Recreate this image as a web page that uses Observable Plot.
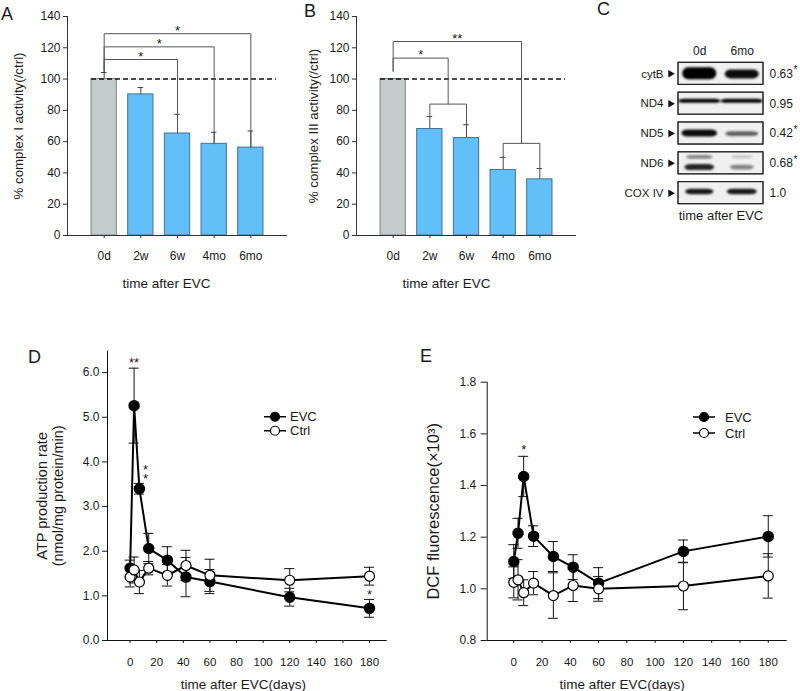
<!DOCTYPE html>
<html><head><meta charset="utf-8">
<script src="https://cdn.jsdelivr.net/npm/d3@7"></script>
<script src="https://cdn.jsdelivr.net/npm/@observablehq/plot@0.6"></script>
<style>
body{margin:0;background:#fff;font-family:"Liberation Sans",Arial,Helvetica,sans-serif;color:#1a1a1a;}
#fig{position:relative;width:800px;height:691px;overflow:hidden;}
.panel{position:absolute;}
.letter{position:absolute;font-size:18px;line-height:18px;}
.legend{position:absolute;font-size:13px;line-height:13px;}
.legend .row{display:flex;align-items:center;}
.legend svg{display:block;}
</style></head>
<body><div id="fig"></div>
<script>
// ---------- data ----------
const catsAB = ["0d", "2w", "6w", "4mo", "6mo"];
const complexI = [100, 90.2, 65.2, 58.6, 56.2];
const complexIErr = [4.2, 4.4, 12.3, 7.4, 10.6];
const complexIII = [100, 68.1, 62.3, 41.9, 35.9];
const complexIIIErr = [0, 8.0, 8.5, 8.1, 6.9];
const sigA = [
  {from: "0d", to: ["6w"], level: 112.5, label: "*"},
  {from: "0d", to: ["4mo"], level: 120.6, label: "*"},
  {from: "0d", to: ["6mo"], level: 129, label: "*"}
];
const sigB = [
  {from: "0d", to: ["2w", "6w"], level: 113.4, join: 84, label: "*"},
  {from: "0d", to: ["4mo", "6mo"], level: 124, join: 58.9, label: "**"}
];

const blotProteins = ["cytB", "ND4", "ND5", "ND6", "COX IV"];
const blotLanes = ["0d", "6mo"];
const blotRatio = ["0.63", "0.95", "0.42", "0.68", "1.0"];
const blotSig = [true, false, true, true, false];
// band density, thickness (share of row), length (share of lane), shift (share of row)
const blotBands = [
  {protein: "cytB", lane: "0d", density: 1.0, thick: 0.40, len: 0.80, shift: 0},
  {protein: "cytB", lane: "6mo", density: 0.95, thick: 0.30, len: 0.80, shift: 0.02},
  {protein: "ND4", lane: "0d", density: 1.0, thick: 0.13, len: 1.0, shift: -0.08},
  {protein: "ND4", lane: "6mo", density: 1.0, thick: 0.13, len: 1.0, shift: -0.08},
  {protein: "ND5", lane: "0d", density: 0.95, thick: 0.24, len: 0.84, shift: 0},
  {protein: "ND5", lane: "6mo", density: 0.6, thick: 0.16, len: 0.78, shift: 0.02},
  {protein: "ND6", lane: "0d", density: 0.45, thick: 0.12, len: 0.62, shift: -0.2},
  {protein: "ND6", lane: "0d", density: 0.85, thick: 0.20, len: 0.70, shift: 0.14},
  {protein: "ND6", lane: "6mo", density: 0.2, thick: 0.10, len: 0.50, shift: -0.2},
  {protein: "ND6", lane: "6mo", density: 0.45, thick: 0.16, len: 0.56, shift: 0.14},
  {protein: "COX IV", lane: "0d", density: 0.9, thick: 0.18, len: 0.66, shift: -0.04},
  {protein: "COX IV", lane: "6mo", density: 0.9, thick: 0.18, len: 0.70, shift: -0.04}
];

const days = [0, 3, 7, 14, 28, 42, 60, 120, 180];
const atpEVC = [1.62, 5.26, 3.40, 2.06, 1.80, 1.42, 1.32, 0.97, 0.72];
const atpEVCErr = [0.18, 0.84, 0.12, 0.34, 0.30, 0.44, 0.27, 0.20, 0.20];
const atpCtrl = [1.42, 1.58, 1.31, 1.62, 1.46, 1.68, 1.46, 1.35, 1.44];
const atpCtrlErr = [0.22, 0.29, 0.26, 0.15, 0.24, 0.34, 0.36, 0.26, 0.20];
const sigD = [
  {day: 3, label: "**"},
  {day: 7, label: "*\n*"},
  {day: 180, label: "*"}
];
const dcfEVC = [1.106, 1.215, 1.435, 1.204, 1.125, 1.084, 1.022, 1.145, 1.203];
const dcfEVCErr = [0.065, 0.058, 0.078, 0.040, 0.058, 0.048, 0.060, 0.044, 0.080];
const dcfCtrl = [1.025, 1.035, 0.985, 1.022, 0.974, 1.013, 1.000, 1.011, 1.050];
const dcfCtrlErr = [0.060, 0.078, 0.050, 0.045, 0.088, 0.062, 0.048, 0.092, 0.086];
const sigE = [{day: 7, label: "*"}];

// ---------- helpers ----------
const FONT = '"Liberation Sans", Arial, Helvetica, sans-serif';
const TXT = "#1a1a1a";
const style = {fontFamily: FONT, fontSize: "12px", color: TXT, background: "transparent", overflow: "visible"};
const fig = document.getElementById("fig");
function place(node, left, top) {
  const d = document.createElement("div");
  d.className = "panel"; d.style.left = left + "px"; d.style.top = top + "px";
  d.appendChild(node); fig.appendChild(d);
}
function letter(t, left, top) {
  const d = document.createElement("div");
  d.className = "letter"; d.textContent = t;
  d.style.left = left + "px"; d.style.top = top + "px";
  fig.appendChild(d);
}

function bracketGeom(sig, vals, errs) {
  const paths = [], stars = [];
  sig.forEach((s, k) => {
    const a = catsAB.indexOf(s.from);
    const footA = vals[a] + Math.max(errs[a], 5);
    const tos = s.to.map(t => catsAB.indexOf(t));
    if (tos.length === 1) {
      const b = tos[0];
      [[a, footA], [a, s.level], [b, s.level], [b, vals[b]]].forEach(([x, y]) => paths.push({x, y, z: "m" + k}));
      stars.push({x: (a + b) / 2, y: s.level, label: s.label});
    } else {
      const mid = (tos[0] + tos[1]) / 2;
      [[a, footA], [a, s.level], [mid, s.level], [mid, s.join]].forEach(([x, y]) => paths.push({x, y, z: "m" + k}));
      [[tos[0], vals[tos[0]] + errs[tos[0]]], [tos[0], s.join], [tos[1], s.join], [tos[1], vals[tos[1]] + errs[tos[1]]]]
        .forEach(([x, y]) => paths.push({x, y, z: "s" + k}));
      stars.push({x: (a + mid) / 2, y: s.level, label: s.label});
    }
  });
  return {paths, stars};
}

function barPanel(vals, errs, sig, ylab, ylabDx, titleDx) {
  const rows = catsAB.map((c, i) => ({c, i, v: vals[i], e: errs[i], top: vals[i] + errs[i]}));
  const {paths, stars} = bracketGeom(sig, vals, errs);
  const withErr = rows.filter(d => d.e > 0);
  const hw = 0.345;
  return Plot.plot({
    width: 292, height: 300, marginLeft: 67, marginRight: 5, marginTop: 16, marginBottom: 65,
    style,
    x: {domain: [-1, 5]},
    y: {domain: [0, 140]},
    marks: [
      Plot.ruleX(withErr, {x: "i", y1: "v", y2: "top", stroke: "#444", strokeWidth: 1}),
      Plot.ruleY(withErr, {x1: "i", x2: "i", y: "top", insetLeft: -2.8, insetRight: -2.8, stroke: "#444", strokeWidth: 1}),
      Plot.rect(rows.filter(d => d.i === 0), {x1: d => d.i - hw, x2: d => d.i + hw, y1: () => 0, y2: "v", fill: "#c3cbcb", stroke: "#7c8585", strokeWidth: 1}),
      Plot.rect(rows.filter(d => d.i > 0), {x1: d => d.i - hw, x2: d => d.i + hw, y1: () => 0, y2: "v", fill: "#63bff8", stroke: "#3e7496", strokeWidth: 1}),
      Plot.ruleY([100], {stroke: "#111", strokeWidth: 1.4, strokeDasharray: "5,3", insetLeft: 24, insetRight: 11}),
      Plot.line(paths, {x: "x", y: "y", z: "z", stroke: "#555", strokeWidth: 1}),
      Plot.text(stars, {x: "x", y: "y", text: "label", dy: -3, fontSize: 13, fill: TXT}),
      Plot.ruleX([-1], {stroke: "#333"}),
      Plot.ruleY([0], {stroke: "#333"}),
      Plot.axisY({ticks: d3.range(0, 141, 20), tickSize: 4, tickPadding: 3, fontSize: 12, label: null, stroke: "#333"}),
      Plot.axisX({ticks: [0, 1, 2, 3, 4], tickFormat: i => catsAB[i], tickSize: 3, tickPadding: 12.5, fontSize: 12, label: null, stroke: "#333"}),
      Plot.text([ylab], {frameAnchor: "left", rotate: -90, textAnchor: "middle", lineAnchor: "middle", dx: ylabDx, fontSize: 13.3, fill: TXT}),
      Plot.text(["time after EVC"], {frameAnchor: "bottom", lineAnchor: "middle", dy: 48, dx: titleDx, fontSize: 13.5, fill: TXT})
    ]
  });
}

// ---------- Panels A, B ----------
place(barPanel(complexI, complexIErr, sigA, "% complex I activity(/ctrl)", -49, -11), 0, 0);
place(barPanel(complexIII, complexIIIErr, sigB, "% complex III activity(/ctrl)", -42.5, -20), 289, 0);

// ---------- Panel C (blot) ----------
const rowsC = blotProteins.map((p, i) => ({p, i, ratio: blotRatio[i], sig: blotSig[i]}));
const laneC = blotLanes.map((l, j) => ({l, c: (j + 0.5) / blotLanes.length}));
const bandsC = blotBands.map(b => {
  const i = blotProteins.indexOf(b.protein);
  const c = laneC.find(l => l.l === b.lane).c;
  const half = b.len * 0.5 / blotLanes.length;
  return {...b, x1: c - half, x2: c + half, y1: i + b.shift - b.thick / 2, y2: i + b.shift + b.thick / 2};
});
place(Plot.plot({
  width: 210, height: 230, marginLeft: 88, marginRight: 37, marginTop: 58.4, marginBottom: 22.4,
  style,
  x: {domain: [0, 1], axis: null},
  y: {domain: [-0.5, 4.5], reverse: true, axis: null},
  marks: [
    Plot.rect(rowsC, {x1: () => 0, x2: () => 1, y1: d => d.i - 0.37, y2: d => d.i + 0.37, fill: "#f0f0f0", stroke: "#222", strokeWidth: 1}),
    Plot.rect(bandsC, {x1: "x1", x2: "x2", y1: "y1", y2: "y2", fill: "#000", fillOpacity: "density", rx: 6, imageFilter: "blur(1.1px)"}),
    Plot.rect(rowsC, {x1: () => 0, x2: () => 1, y1: d => d.i - 0.37, y2: d => d.i + 0.37, fill: "none", stroke: "#222", strokeWidth: 1}),
    Plot.text(rowsC, {x: () => 0, y: "i", text: "p", textAnchor: "end", dx: -15, fontSize: 11.5, fill: TXT}),
    Plot.dot(rowsC, {x: () => 0, y: "i", symbol: "triangle", rotate: 90, r: 2.8, dx: -8, fill: "#111", stroke: "none"}),
    Plot.text(rowsC, {x: () => 1, y: "i", text: "ratio", textAnchor: "start", dx: 6, fontSize: 12, fill: TXT}),
    Plot.text(rowsC.filter(d => d.sig), {x: () => 1, y: "i", text: () => "*", textAnchor: "start", dx: 30, dy: -4, fontSize: 10, fill: TXT}),
    Plot.text(laneC, {x: "c", y: () => -0.5, text: "l", dy: -8, fontSize: 12, fill: TXT}),
    Plot.text(["time after EVC"], {frameAnchor: "bottom", lineAnchor: "middle", dy: 8, fontSize: 13, fill: TXT})
  ]
}), 590, 0);

// ---------- Panels D, E ----------
function series(vals, errs, name) {
  return days.map((day, i) => ({day, v: vals[i], e: errs[i], lo: vals[i] - errs[i], hi: vals[i] + errs[i], s: name}));
}
function linePanel(opts) {
  const evc = series(opts.evc, opts.evcErr, "EVC");
  const ctrl = series(opts.ctrl, opts.ctrlErr, "Ctrl");
  const all = evc.concat(ctrl);
  const starRows = opts.sig.map(s => ({...s, hi: evc.find(d => d.day === s.day).hi}));
  return Plot.plot({
    width: 400, height: 361, marginLeft: opts.marginLeft, marginRight: 13.3, marginTop: opts.marginTop, marginBottom: 51,
    style,
    x: {domain: opts.xdomain},
    y: {domain: opts.ydomain},
    marks: [
      Plot.ruleX(all, {x: "day", y1: "lo", y2: "hi", stroke: "#111", strokeWidth: 1}),
      Plot.ruleY(all, {x1: "day", x2: "day", y: "hi", insetLeft: -5, insetRight: -5, stroke: "#111", strokeWidth: 1}),
      Plot.ruleY(all, {x1: "day", x2: "day", y: "lo", insetLeft: -5, insetRight: -5, stroke: "#111", strokeWidth: 1}),
      Plot.line(evc, {x: "day", y: "v", stroke: "#000", strokeWidth: 2}),
      Plot.line(ctrl, {x: "day", y: "v", stroke: "#000", strokeWidth: 2}),
      Plot.dot(evc, {x: "day", y: "v", r: 5, fill: "#000", stroke: "#000"}),
      Plot.dot(ctrl, {x: "day", y: "v", r: 5, fill: "#fff", stroke: "#000", strokeWidth: 1.2}),
      Plot.text(starRows.filter(d => !d.label.includes("\n")), {x: "day", y: "hi", text: "label", dy: opts.starDy, fontSize: 13, fill: TXT}),
      Plot.text(starRows.filter(d => d.label.includes("\n")), {x: "day", y: "hi", text: "label", dx: 6, dy: -8, lineHeight: 0.72, fontSize: 13, fill: TXT}),
      Plot.ruleX([opts.xdomain[0]], {stroke: "#111"}),
      Plot.ruleY([opts.ydomain[0]], {stroke: "#111"}),
      Plot.axisY({ticks: opts.yticks, tickFormat: d3.format(".1f"), tickSize: opts.ytickSize, tickPadding: opts.ytickPad, fontSize: 12, label: null}),
      Plot.axisX({ticks: d3.range(0, 181, 20), tickSize: 3, tickPadding: 14, fontSize: 11.5, label: null}),
      Plot.text([opts.ylab], {frameAnchor: "left", rotate: -90, textAnchor: "middle", lineAnchor: "middle", dx: opts.ylabDx, fontSize: opts.ylabSize, lineHeight: 1.1, fill: TXT}),
      Plot.text(["time after EVC(days)"], {frameAnchor: "bottom", lineAnchor: "middle", dy: 44, dx: opts.titleDx, fontSize: 13.5, fill: TXT})
    ]
  });
}
place(linePanel({
  evc: atpEVC, evcErr: atpEVCErr, ctrl: atpCtrl, ctrlErr: atpCtrlErr, sig: sigD,
  marginLeft: 107, marginTop: 20.7, xdomain: [-17, 193.3], ydomain: [0, 6.48],
  yticks: d3.range(0, 6.01, 1), ytickSize: 5, ytickPad: 3, starDy: -5,
  ylab: "ATP production rate\n(nmol/mg protein/min)", ylabDx: -58, ylabSize: 14.5, titleDx: -4
}), 0, 330);
place(linePanel({
  evc: dcfEVC, evcErr: dcfEVCErr, ctrl: dcfCtrl, ctrlErr: dcfCtrlErr, sig: sigE,
  marginLeft: 86.7, marginTop: 51.7, xdomain: [-18.8, 193.4], ydomain: [0.8, 1.8],
  yticks: [0.8, 1.0, 1.2, 1.4, 1.6, 1.8], ytickSize: 6, ytickPad: 5, starDy: -7,
  ylab: "DCF fluorescence(×10³)", ylabDx: -53.7, ylabSize: 16.5, titleDx: -15
}), 400, 330);

// ---------- legends ----------
function legend(left, top, rowH, gap, items) {
  const d = document.createElement("div");
  d.className = "legend"; d.style.left = left + "px"; d.style.top = top + "px";
  items.forEach(it => {
    const r = document.createElement("div");
    r.className = "row"; r.style.height = rowH + "px";
    r.innerHTML = `<svg width="22" height="${rowH}"><line x1="0" x2="22" y1="${rowH / 2}" y2="${rowH / 2}" stroke="#000" stroke-width="1.5"/><circle cx="11" cy="${rowH / 2}" r="4.5" fill="${it.fill}" stroke="#000" stroke-width="1.2"/></svg><span style="margin-left:${gap}px">${it.name}</span>`;
    d.appendChild(r);
  });
  fig.appendChild(d);
}
legend(264, 410, 13.5, 4, [{name: "EVC", fill: "#000"}, {name: "Ctrl", fill: "#fff"}]);
legend(693, 409, 16, 10, [{name: "EVC", fill: "#000"}, {name: "Ctrl", fill: "#fff"}]);

// ---------- panel letters ----------
letter("A", 1, 4.8);
letter("B", 304, 2);
letter("C", 597, 0);
letter("D", 28, 348);
letter("E", 420, 347);
</script>
</body></html>
